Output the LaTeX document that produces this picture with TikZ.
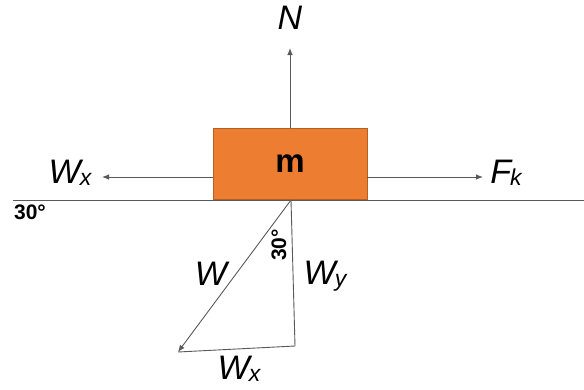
\documentclass[tikz,border=0pt]{standalone}
\usepackage{fontspec}
\setmainfont{Liberation Sans}
\usetikzlibrary{arrows.meta}
\definecolor{blockfill}{HTML}{ED7D31}
\definecolor{blockedge}{HTML}{B5601F}
\definecolor{linegray}{HTML}{595959}
\newcommand{\lbl}[2]{{\itshape #1\kern-1pt\raisebox{-2.5pt}{\fontsize{23}{23}\selectfont #2}}}
\begin{document}
\begin{tikzpicture}[x=1pt,y=-1pt,
  force/.style={draw=linegray,line width=0.9pt,-{Latex[length=7pt,width=5.5pt]}},
  plain/.style={draw=linegray,line width=0.9pt},
  lab/.style={font=\fontsize{34}{36}\selectfont\itshape,inner sep=0pt,text=black},
  ang/.style={font=\fontsize{21}{22}\selectfont\bfseries,inner sep=0pt},
  blockbox/.style={draw=blockedge,fill=blockfill,line width=0.8pt,minimum width=154pt,minimum height=71pt,inner sep=0pt,font=\fontsize{33}{33}\selectfont\bfseries}]
\useasboundingbox (0,0) rectangle (584,389);
% ground
\coordinate (gl) at (13,200);
\coordinate (gr) at (584,200);
\draw[plain] (gl) -- (gr);
% block
\node[blockbox] (m) at (290,164) {m};
% force end points
\coordinate (Ntip) at (290,48);
\coordinate (Fs) at (367,177);
\coordinate (Ft) at (483,177);
\coordinate (Ws) at (213,177);
\coordinate (Wt) at (102,177);
\draw[force] (m.north) -- (Ntip);
\draw[force] (Fs) -- (Ft);
\draw[force] (Ws) -- (Wt);
% labels
\node[lab] (Nl) at (290,18) {N};
\node[lab] (Fl) at (506,173) {\lbl{F}{k}};
\node[lab] (Wxl) at (70,173) {\lbl{W}{x}};
\node[ang] (a1) at (30,212) {30°};
% triangle
\coordinate (O) at (291,200);
\coordinate (B) at (295,346);
\coordinate (T) at (178,352);
\draw[plain] (O) -- (B) -- (T);
\draw[force] (O) -- (T);
\node[lab] (Wl) at (211,274) {W};
\node[lab] (Wyl) at (325,276) {\lbl{W}{y}};
\node[lab] (Wxb) at (239,369) {\lbl{W}{x}};
\node[ang,rotate=90] (a2) at (279,245) {30°};
\end{tikzpicture}
\end{document}
